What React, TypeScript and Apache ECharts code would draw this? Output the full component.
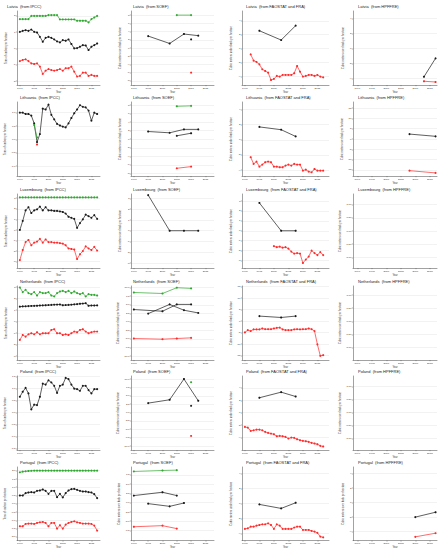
import React, { useEffect, useRef } from "react";
import * as echarts from "echarts";

// ---------- categories / x positions ----------
const YEARS = [1990, 1991, 1992, 1993, 1994, 1995, 1996, 1997, 1998, 1999, 2000, 2001, 2002, 2003, 2004, 2005, 2006, 2007, 2008, 2009, 2010, 2011, 2012, 2013, 2014, 2015, 2016, 2017];
const YEARS_1992 = [1992, 1993, 1994, 1995, 1996, 1997, 1998, 1999, 2000, 2001, 2002, 2003, 2004, 2005, 2006, 2007, 2008, 2009, 2010, 2011, 2012, 2013, 2014, 2015, 2016, 2017];
const YEARS_2000 = [2000, 2001, 2002, 2003, 2004, 2005, 2006, 2007, 2008, 2009, 2010, 2011, 2012, 2013, 2014, 2015, 2016, 2017];
const PERIOD_MID = [1995, 2002.5, 2007.5, 2012.5];
const FRA_MID = [1995, 2002.5, 2007.5];
const X_TICKS = [1990, 1995, 2000, 2005, 2010, 2015];

// ---------- tick labels ----------
const T_2 = [-2, -1, 0, 1, 2];
const T_8 = [-8, -6, -4, -2, 0, 2, 4, 6, 8];
const T_4 = [-4, -2, 0, 2, 4];
const T_1 = [-1, -0.5, 0, 0.5, 1];
const T_15 = [-15, -10, -5, 0, 5, 10, 15];
const T_3 = [-3, -2, -1, 0, 1, 2, 3];
const T_10 = [-10, -7.5, -5, -2.5, 0, 2.5, 5, 7.5, 10];
const T_15H = [-1.5, -1, -0.5, 0, 0.5, 1, 1.5];
const T_2H = [-2, -1.5, -1, -0.5, 0, 0.5, 1, 1.5, 2];
const T_75 = [-7.5, -5, -2.5, 0, 2.5, 5, 7.5];

// ---------- Latvia ----------
const latviaIpccGreen = [1.8, 1.8, 1.8, 1.8, 2.0, 2.0, 2.0, 2.0, 2.0, 2.0, 2.05, 2.05, 2.05, 2.05, 1.78, 1.78, 1.78, 1.78, 1.78, 1.78, 1.7, 1.7, 1.7, 1.7, 1.6, 1.8, 1.9, 2.0];
const latviaIpccBlack = [1.02, 1.08, 1.12, 1.08, 1.16, 1.02, 0.98, 0.71, 0.41, 0.65, 0.71, 0.65, 0.55, 0.43, 0.37, 0.51, 0.47, 0.55, 0.27, 0.0, 0.02, 0.1, 0.2, 0.18, -0.1, 0.1, 0.2, 0.3];
const latviaIpccRed = [-0.78, -0.71, -0.67, -0.78, -0.92, -0.96, -0.92, -1.12, -1.57, -1.37, -1.27, -1.33, -1.37, -1.33, -1.27, -1.37, -1.22, -1.22, -1.12, -1.43, -1.73, -1.69, -1.49, -1.49, -1.69, -1.63, -1.69, -1.69];
const latviaSoefGreenYears = [2005, 2010];
const latviaSoefGreen = [8, 8];
const latviaSoefBlack = [2.9, 1.1, 3.4, 3.0];
const latviaSoefPointYear = [2010];
const latviaSoefBlackPoint = [2.1];
const latviaSoefRedPoint = [-6];
const latviaFaoBlack = [2.57, 1.24, 3.3];
const latviaFaoRed = [-0.81, -1.71, -1.9, -2.24, -2.95, -3.19, -3.43, -4.48, -4.33, -3.9, -4.0, -3.76, -3.76, -3.76, -3.76, -3.52, -2.48, -3.29, -4.0, -3.9, -3.76, -3.76, -3.9, -3.76, -4.0, -4.1];
const latviaHpYears = [2013, 2017];
const latviaHpBlack = [-3.8, -1.33];
const latviaHpRed = [-4.4, -4.5];

// ---------- Lithuania ----------
const lithIpccBlack = [1.0, 1.0, 0.95, 0.95, 0.89, 0.6, -0.1, 0.2, 1.15, 1.12, 1.3, 0.92, 0.75, 0.58, 0.52, 0.48, 0.45, 0.6, 0.8, 0.98, 1.12, 1.28, 1.22, 1.2, 1.08, 0.7, 1.0, 0.95];
const lithIpccGreenYears = [1995, 1996];
const lithIpccGreen = [0.54, 0.07];
const lithIpccRedYears = [1996];
const lithIpccRed = [-0.19];
const lithSoefYears = [2005, 2010];
const lithSoefGreen = [7.7, 7.8];
const lithSoefBlackA = [1.8, 1.5, 2.3, 2.3];
const lithSoefBlackB = [0.8, 1.4];
const lithSoefRed = [-6.8, -6.4];
const lithFaoBlack = [1.7, 1.33, 0.44];
const lithFaoRed = [-2.31, -3.2, -2.89, -3.56, -3.29, -2.98, -2.89, -2.98, -3.56, -3.56, -3.64, -3.64, -3.42, -3.29, -3.42, -3.2, -3.29, -3.29, -4.09, -3.96, -4.22, -4.31, -3.87, -4.09, -4.09, -4.09];
const lithHpYears = [2008, 2017];
const lithHpBlack = [2.4, 1.3];
const lithHpRed = [-15.4, -16.5];

// ---------- Luxembourg ----------
const luxIpccGreen = [3.08, 3.08, 3.08, 3.08, 3.08, 3.08, 3.08, 3.08, 3.08, 3.08, 3.08, 3.08, 3.08, 3.08, 3.08, 3.08, 3.08, 3.08, 3.08, 3.08, 3.08, 3.08, 3.08, 3.08, 3.08, 3.08, 3.08, 3.08];
const luxIpccBlack = [0, 0.85, 1.85, 2.15, 1.6, 1.85, 1.95, 2.2, 1.85, 2.15, 1.85, 1.85, 1.8, 1.8, 1.75, 1.7, 1.55, 1.25, 1.15, 1.05, 0.2, 0.65, 1.0, 1.45, 1.3, 1.15, 1.4, 1.05];
const luxIpccRed = [-2.85, -1.9, -1.15, -0.95, -1.45, -1.2, -1.1, -0.85, -1.2, -0.9, -1.15, -1.15, -1.2, -1.2, -1.25, -1.3, -1.45, -1.75, -1.8, -1.85, -2.75, -2.3, -2.0, -1.55, -1.75, -1.9, -1.6, -1.95];
const luxSoefBlack = [3.3, 0, 0, 0];
const luxFaoBlack = [2.8, 0, 0];
const luxFaoRed = [-1.55, -1.65, -1.6, -1.7, -1.65, -1.8, -2.1, -2.3, -2.25, -2.3, -3.25, -2.9, -2.6, -2.0, -2.25, -2.45, -2.15, -2.45];

// ---------- Netherlands ----------
const nlIpccGreen = [2.97, 2.57, 2.77, 2.48, 2.39, 2.57, 2.27, 2.57, 2.48, 2.48, 2.57, 2.27, 2.19, 2.48, 2.62, 2.68, 2.57, 2.68, 2.48, 2.62, 2.48, 2.39, 2.48, 2.19, 2.39, 2.33, 2.33, 2.27];
const nlIpccBlack = [1.3, 1.32, 1.33, 1.35, 1.36, 1.37, 1.38, 1.4, 1.41, 1.42, 1.44, 1.45, 1.47, 1.48, 1.49, 1.42, 1.44, 1.45, 1.47, 1.5, 1.52, 1.55, 1.57, 1.6, 1.38, 1.4, 1.4, 1.41];
const nlIpccRed = [-1.6, -1.17, -1.31, -1.11, -1.02, -1.11, -0.93, -1.11, -1.02, -1.02, -1.02, -0.73, -0.67, -1.02, -1.02, -1.17, -1.11, -1.17, -1.02, -0.87, -0.93, -0.73, -0.67, -0.87, -1.02, -0.93, -0.87, -0.87];
const nlSoefYears = [1990, 2000, 2005, 2010];
const nlSoefGreen = [8.6, 8.3, 10, 9.8];
const nlSoefBlackA = [3.6, 3.1, 5.1, 5.1];
const nlSoefBlackB = [2.4, 5.1, 3.4, 2.6];
const nlSoefRed = [-4.9, -5.1, -4.9, -4.7];
const nlFaoBlack = [2.2, 1.6, 2.2];
const nlFaoRed = [-4.9, -3.9, -4.3, -3.6, -3.6, -3.6, -3.2, -3.5, -3.5, -3.5, -3.2, -2.9, -2.8, -3.6, -3.9, -3.9, -3.9, -3.6, -3.5, -3.6, -3.5, -3.5, -3.2, -3.5, -4.3, -10.1, -15.1, -14.8];

// ---------- Poland ----------
const plIpccBlack = [0.66, 0.87, 1.03, 0.8, 0.13, 0.33, 0.31, 0.66, 1.21, 1.17, 1.35, 1.26, 1.12, 0.82, 1.12, 1.17, 1.45, 1.4, 1.17, 1.0, 0.98, 0.91, 1.12, 1.12, 0.94, 0.8, 0.98, 0.98];
const plSoefBlack = [2.8, 3.8, 10.0, 3.5];
const plSoefPointYear = [2010];
const plSoefBlackPoint = [2.0];
const plSoefGreenPoint = [9.05];
const plSoefRedPoint = [-7.0];
const plFaoBlack = [2.4, 3.3, 2.6];
const plFaoRed = [-2.29, -2.4, -2.93, -2.83, -2.72, -2.72, -2.83, -3.09, -3.25, -3.36, -3.47, -3.79, -3.73, -3.79, -3.89, -4.16, -4.0, -4.05, -4.27, -4.43, -4.53, -4.59, -4.69, -4.85, -4.96, -5.07, -5.33, -5.44];

// ---------- Portugal ----------
const ptIpccGreen = [1.9, 1.94, 1.96, 1.98, 1.99, 2.0, 2.0, 2.0, 2.0, 2.0, 2.0, 2.0, 2.0, 2.0, 2.0, 2.0, 2.0, 2.0, 2.0, 2.0, 2.0, 2.0, 2.0, 2.0, 2.0, 2.0, 2.0, 2.0];
const ptIpccBlack = [0.5, 0.5, 0.64, 0.68, 0.7, 0.68, 0.78, 0.8, 0.86, 0.78, 0.6, 0.78, 0.78, 0.4, 0.6, 0.38, 0.64, 0.8, 0.88, 0.9, 0.84, 0.78, 0.74, 0.74, 0.7, 0.68, 0.58, 0.34];
const ptIpccRed = [-1.36, -1.36, -1.22, -1.2, -1.2, -1.22, -1.16, -1.12, -1.1, -1.16, -1.36, -1.16, -1.16, -1.5, -1.3, -1.5, -1.26, -1.16, -1.1, -1.06, -1.12, -1.16, -1.2, -1.2, -1.2, -1.22, -1.32, -1.62];
const ptSoefYears = [1990, 2000, 2005];
const ptSoefGreen = [8.4, 8.66, 8.75];
const ptSoefBlackA = [1.9, 2.8, 1.9];
const ptSoefBlackB = [-0.27, -1.0, -0.1];
const ptSoefRed = [-6.5, -6.2, -7.0];
const ptFaoBlack = [-0.13, -0.66, 0.09];
const ptFaoRed = [-3.38, -3.3, -3.08, -3.08, -2.95, -2.86, -2.77, -2.77, -2.64, -2.86, -3.38, -2.77, -2.95, -3.38, -3.38, -3.38, -3.38, -3.2, -3.08, -3.08, -3.52, -3.52, -3.52, -3.65, -3.74, -3.9, -4.4, -4.5];
const ptHpYears = [2010, 2017];
const ptHpBlack = [-2.0, -1.33];
const ptHpRed = [-4.7, -4.2];

// ---------- texts ----------
const COUNTRIES = ["Latvia", "Lithuania", "Luxembourg", "Netherlands", "Poland", "Portugal"];
const SOURCES = ["IPCC", "SOEF", "FAOSTAT and FRA", "HPFFRE"];
const Y_NAMES = [
  "Tons of carbon per hectare",
  "Cubic meters over bark per hectare",
  "Cubic meters under bark per hectare",
  "Cubic meters over bark per hectare",
];

// ---------- styling / layout ----------
const GREEN = "#2fa82f";
const RED = "#ff2b2b";
const BLACK = "#1a1a1a";
const FONT = "Liberation Sans, Arial, sans-serif";

const COL_LEFT = [17, 131, 242, 353];
const COL_WIDTH = [83, 83, 87, 84];
const COL_XMIN = [1989, 1989, 1989, 1988.5];
const COL_XMAX = [2018, 2018, 2019, 2017.5];
const TITLE_LEFT = [20, 133, 246, 358];
const ROW_TOP = [0, 91, 183, 275, 365, 456];

type Line = { color: string; x: number[]; y: number[] };
type Panel = { yMin: number; yMax: number; ticks: number[]; dec: number; lines: Line[] };

const L = (color: string, x: number[], y: number[]): Line => ({ color, x, y });

const PANELS: Panel[][] = [
  [
    { yMin: -2.25, yMax: 2.3, ticks: T_2, dec: 0, lines: [L(GREEN, YEARS, latviaIpccGreen), L(BLACK, YEARS, latviaIpccBlack), L(RED, YEARS, latviaIpccRed)] },
    { yMin: -9, yMax: 9, ticks: T_8, dec: 0, lines: [L(GREEN, latviaSoefGreenYears, latviaSoefGreen), L(BLACK, PERIOD_MID, latviaSoefBlack), L(BLACK, latviaSoefPointYear, latviaSoefBlackPoint), L(RED, latviaSoefPointYear, latviaSoefRedPoint)] },
    { yMin: -5.2, yMax: 5.4, ticks: T_4, dec: 0, lines: [L(BLACK, FRA_MID, latviaFaoBlack), L(RED, YEARS_1992, latviaFaoRed)] },
    { yMin: -4.9, yMax: 5, ticks: T_4, dec: 0, lines: [L(BLACK, latviaHpYears, latviaHpBlack), L(RED, latviaHpYears, latviaHpRed)] },
  ],
  [
    { yMin: -1.37, yMax: 1.4, ticks: T_1, dec: 1, lines: [L(BLACK, YEARS, lithIpccBlack), L(GREEN, lithIpccGreenYears, lithIpccGreen), L(RED, lithIpccRedYears, lithIpccRed)] },
    { yMin: -8.6, yMax: 8.7, ticks: T_8, dec: 0, lines: [L(GREEN, lithSoefYears, lithSoefGreen), L(BLACK, PERIOD_MID, lithSoefBlackA), L(BLACK, lithSoefYears, lithSoefBlackB), L(RED, lithSoefYears, lithSoefRed)] },
    { yMin: -4.8, yMax: 5, ticks: T_4, dec: 0, lines: [L(BLACK, FRA_MID, lithFaoBlack), L(RED, YEARS_1992, lithFaoRed)] },
    { yMin: -18, yMax: 18, ticks: T_15, dec: 0, lines: [L(BLACK, lithHpYears, lithHpBlack), L(RED, lithHpYears, lithHpRed)] },
  ],
  [
    { yMin: -3.6, yMax: 3.4, ticks: T_3, dec: 0, lines: [L(GREEN, YEARS, luxIpccGreen), L(BLACK, YEARS, luxIpccBlack), L(RED, YEARS, luxIpccRed)] },
    { yMin: -3.45, yMax: 3.4, ticks: T_3, dec: 0, lines: [L(BLACK, PERIOD_MID, luxSoefBlack)] },
    { yMin: -3.75, yMax: 3.7, ticks: T_3, dec: 0, lines: [L(BLACK, FRA_MID, luxFaoBlack), L(RED, YEARS_2000, luxFaoRed)] },
    { yMin: -1.4, yMax: 1.4, ticks: T_1, dec: 2, lines: [] },
  ],
  [
    { yMin: -3.35, yMax: 3.1, ticks: T_3, dec: 0, lines: [L(GREEN, YEARS, nlIpccGreen), L(BLACK, YEARS, nlIpccBlack), L(RED, YEARS, nlIpccRed)] },
    { yMin: -11.2, yMax: 10.5, ticks: T_10, dec: 1, lines: [L(GREEN, nlSoefYears, nlSoefGreen), L(BLACK, nlSoefYears, nlSoefBlackA), L(BLACK, PERIOD_MID, nlSoefBlackB), L(RED, nlSoefYears, nlSoefRed)] },
    { yMin: -16.9, yMax: 15.3, ticks: T_15, dec: 0, lines: [L(BLACK, FRA_MID, nlFaoBlack), L(RED, YEARS, nlFaoRed)] },
    { yMin: -1.47, yMax: 1.34, ticks: T_1, dec: 2, lines: [] },
  ],
  [
    { yMin: -1.57, yMax: 1.53, ticks: T_15H, dec: 1, lines: [L(BLACK, YEARS, plIpccBlack)] },
    { yMin: -11.2, yMax: 10.9, ticks: T_10, dec: 1, lines: [L(BLACK, PERIOD_MID, plSoefBlack), L(BLACK, plSoefPointYear, plSoefBlackPoint), L(GREEN, plSoefPointYear, plSoefGreenPoint), L(RED, plSoefPointYear, plSoefRedPoint)] },
    { yMin: -6, yMax: 5.9, ticks: T_4, dec: 0, lines: [L(BLACK, FRA_MID, plFaoBlack), L(RED, YEARS, plFaoRed)] },
    { yMin: -1.45, yMax: 1.4, ticks: T_1, dec: 2, lines: [] },
  ],
  [
    { yMin: -2.22, yMax: 2.22, ticks: T_2H, dec: 1, lines: [L(GREEN, YEARS, ptIpccGreen), L(BLACK, YEARS, ptIpccBlack), L(RED, YEARS, ptIpccRed)] },
    { yMin: -10.2, yMax: 9.6, ticks: T_75, dec: 1, lines: [L(GREEN, ptSoefYears, ptSoefGreen), L(BLACK, ptSoefYears, ptSoefBlackA), L(BLACK, FRA_MID, ptSoefBlackB), L(RED, ptSoefYears, ptSoefRed)] },
    { yMin: -4.92, yMax: 4.84, ticks: T_4, dec: 0, lines: [L(BLACK, FRA_MID, ptFaoBlack), L(RED, YEARS, ptFaoRed)] },
    { yMin: -5.2, yMax: 4.86, ticks: T_4, dec: 0, lines: [L(BLACK, ptHpYears, ptHpBlack), L(RED, ptHpYears, ptHpRed)] },
  ],
];

function buildOption() {
  const grids: any[] = [];
  const xAxes: any[] = [];
  const yAxes: any[] = [];
  const titles: any[] = [];
  const series: any[] = [];
  PANELS.forEach((row, r) => {
    row.forEach((p, c) => {
      const idx = grids.length;
      const top = ROW_TOP[r] + 11;
      grids.push({ left: COL_LEFT[c], top, width: COL_WIDTH[c], height: 74 });
      titles.push({
        text: `${COUNTRIES[r]}  (from ${SOURCES[c]})`,
        left: r === 0 && c === 0 ? 7 : TITLE_LEFT[c],
        top: ROW_TOP[r] + 4,
        padding: 0,
        textStyle: { fontSize: 4, fontWeight: "normal", color: "#222", fontFamily: FONT },
      });
      xAxes.push({
        type: "value",
        gridIndex: idx,
        min: COL_XMIN[c],
        max: COL_XMAX[c],
        name: "Year",
        nameLocation: "middle",
        nameGap: 4.5,
        nameTextStyle: { fontSize: 2.6, color: "#333", fontFamily: FONT },
        axisLine: { show: true, onZero: false, lineStyle: { color: "#444", width: 0.5 } },
        axisTick: { show: true, length: 1.2, customValues: X_TICKS, lineStyle: { color: "#444", width: 0.4 } },
        axisLabel: { customValues: X_TICKS, fontSize: 2.5, margin: 1.6, color: "#333", fontFamily: FONT, formatter: (v: number) => String(v) },
        splitLine: { show: false },
      });
      yAxes.push({
        type: "value",
        gridIndex: idx,
        min: p.yMin,
        max: p.yMax,
        name: Y_NAMES[c],
        nameLocation: "middle",
        nameGap: c === 3 ? 7 : 8.5,
        nameTextStyle: { fontSize: 2.7, color: "#333", fontFamily: FONT },
        axisLine: { show: true, onZero: false, lineStyle: { color: "#444", width: 0.5 } },
        axisTick: { show: true, length: 1.2, customValues: p.ticks, lineStyle: { color: "#444", width: 0.4 } },
        axisLabel: {
          customValues: p.ticks,
          fontSize: 2.5,
          margin: 1.6,
          color: "#333",
          fontFamily: FONT,
          formatter: (v: number) => (Math.abs(v) < 1e-9 ? 0 : v).toFixed(p.dec),
        },
        splitLine: { show: true, lineStyle: { color: "#e4e4e4", width: 0.5 } },
      });
      p.lines.forEach((ln) => {
        series.push({
          type: "line",
          xAxisIndex: idx,
          yAxisIndex: idx,
          data: ln.x.map((x, i) => [x, ln.y[i]]),
          symbol: "circle",
          symbolSize: 2.1,
          showSymbol: true,
          itemStyle: { color: ln.color },
          lineStyle: { color: ln.color, width: 0.7 },
          silent: true,
          clip: false,
        });
      });
    });
  });
  return {
    animation: false,
    backgroundColor: "#ffffff",
    title: titles,
    grid: grids,
    xAxis: xAxes,
    yAxis: yAxes,
    series,
  };
}

export default function App() {
  const ref = useRef<HTMLDivElement>(null);
  useEffect(() => {
    if (!ref.current) return;
    const chart = echarts.init(ref.current, null, { renderer: "svg" });
    chart.setOption(buildOption());
    return () => chart.dispose();
  }, []);
  return (
    <div
      ref={ref}
      style={{ position: "fixed", left: 0, top: 0, width: 447, height: 550, background: "#fff" }}
    />
  );
}
